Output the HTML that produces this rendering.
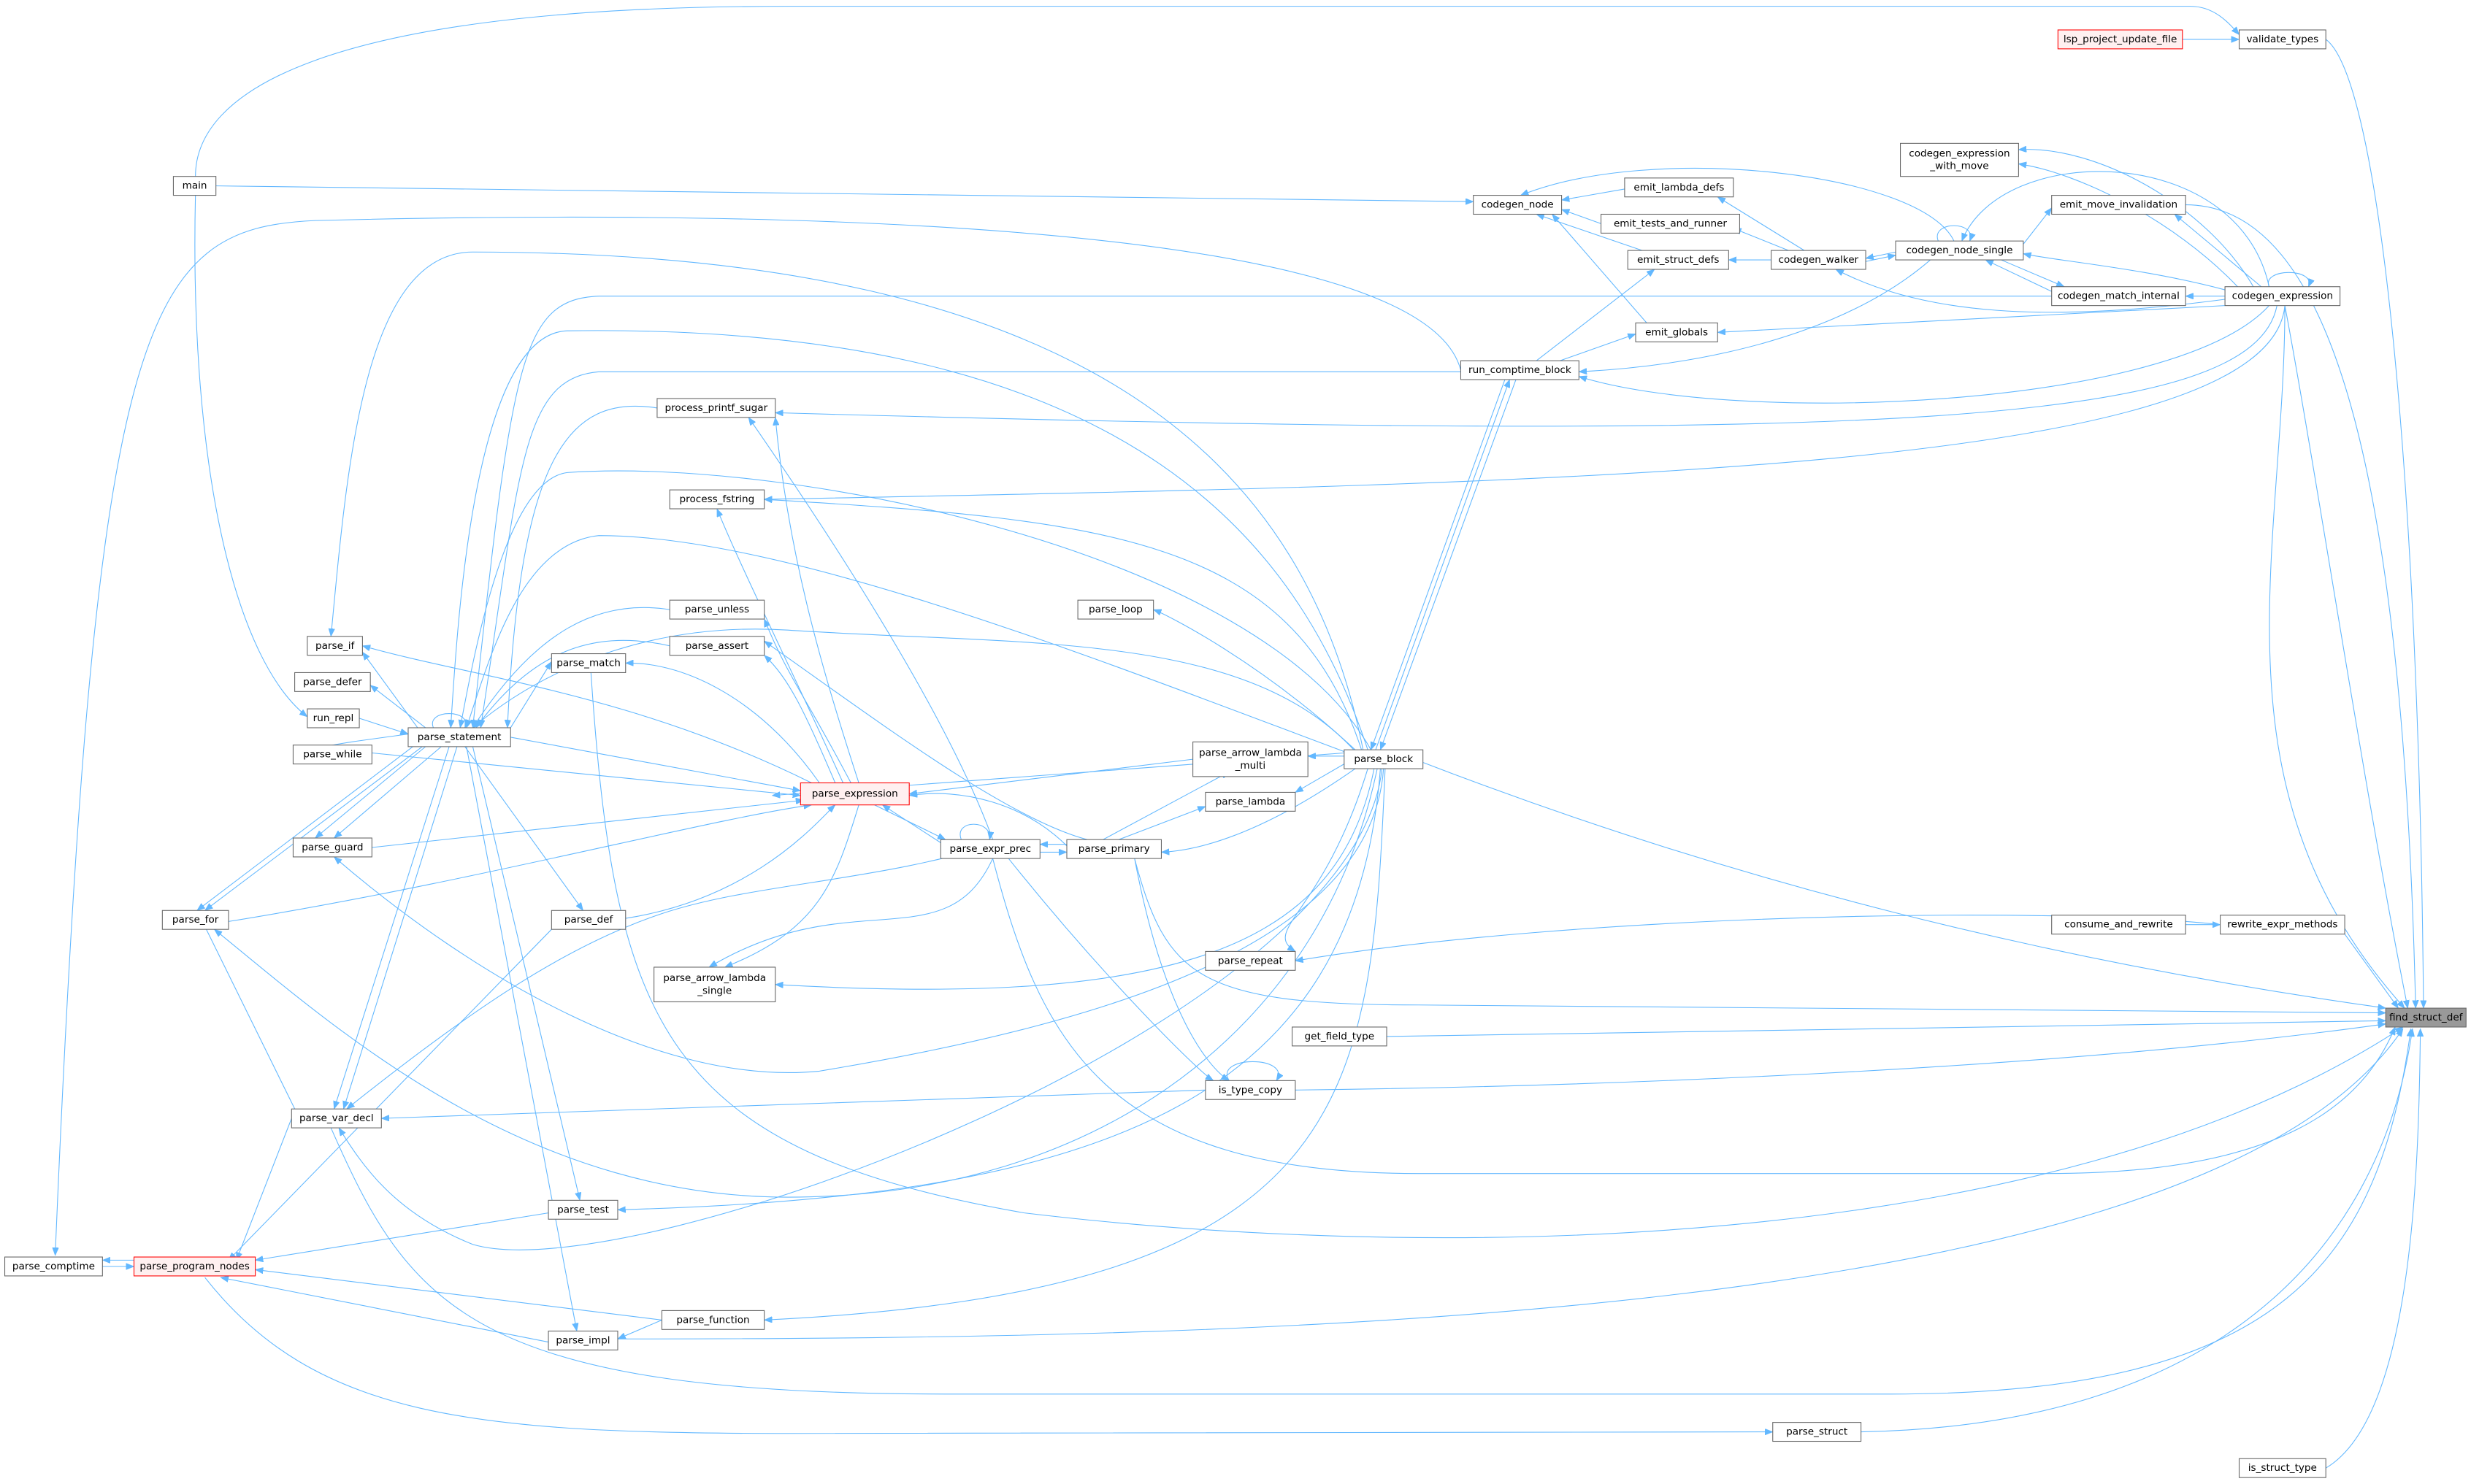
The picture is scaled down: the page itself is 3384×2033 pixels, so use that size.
<!DOCTYPE html>
<html><head><meta charset="utf-8"><style>
html,body{margin:0;padding:0;background:#fff;}
svg{display:block}
text{font-family:"DejaVu Sans","Liberation Sans",sans-serif;font-size:6.3px;fill:#000;text-anchor:middle;dominant-baseline:central}
.n{fill:#fff;stroke:#666;stroke-width:0.5}
.r{fill:#fff0f0;stroke:#f00;stroke-width:0.5}
.g{fill:#999;stroke:#666;stroke-width:0.5}
.e{fill:none;stroke:#63b8ff;stroke-width:0.5}
</style></head><body>
<svg width="3384" height="2033" viewBox="0 0 1568.1 942.1">
<defs><marker id="a" markerWidth="5" markerHeight="4" refX="5" refY="2" orient="auto" markerUnits="userSpaceOnUse"><path d="M0,0L5,2L0,4z" fill="#63b8ff" stroke="#63b8ff" stroke-width="0.3"/></marker></defs>
<g marker-end="url(#a)">
<path class="e" d="M124,112 C124,60 200,4 500,4 L1390,4 C1405,4 1414,14 1421,22"/>
<path class="e" d="M1385,25 L1421,25"/>
<path class="e" d="M137,118 L935,128"/>
<path class="e" d="M1031,120 L991,127"/>
<path class="e" d="M1016,142 L991,133"/>
<path class="e" d="M1045,160 L975,136"/>
<path class="e" d="M1045,205 L985,136"/>
<path class="e" d="M975,229 L1050,171"/>
<path class="e" d="M990,229 L1038,212"/>
<path class="e" d="M1124,165 L1097,165"/>
<path class="e" d="M1135,159 L1100,145"/>
<path class="e" d="M1145,159 L1090,125"/>
<path class="e" d="M1203,160 L1184,164"/>
<path class="e" d="M1184,166 L1203,162"/>
<path class="e" d="M1240,153 C1220,110 1050,90 965,124"/>
<path class="e" d="M1230,153 C1225,140 1255,140 1250,153"/>
<path class="e" d="M1225,165 C1150,230 1020,235 1002,236"/>
<path class="e" d="M1284,155 L1302,132"/>
<path class="e" d="M1302,185 L1260,165"/>
<path class="e" d="M1270,165 L1310,182"/>
<path class="e" d="M1412,188 L1387,188"/>
<path class="e" d="M1412,184 C1360,170 1300,165 1284,161"/>
<path class="e" d="M1412,190 C1300,205 1220,200 1165,171"/>
<path class="e" d="M1412,194 L1090,211"/>
<path class="e" d="M1440,194 C1380,260 1100,270 1002,239"/>
<path class="e" d="M1445,194 C1430,270 1200,282 492,262"/>
<path class="e" d="M1450,194 C1440,300 1000,307 485,317"/>
<path class="e" d="M1420,182 C1380,140 1320,110 1281,104"/>
<path class="e" d="M1430,182 C1400,130 1330,92 1281,95"/>
<path class="e" d="M1435,182 L1380,136"/>
<path class="e" d="M1440,182 C1435,170 1470,170 1465,182"/>
<path class="e" d="M1440,182 C1420,90 1270,90 1245,153"/>
<path class="e" d="M1302,188 L380,188 C330,190 325,230 300,462"/>
<path class="e" d="M927,235 C900,130 400,135 200,140 C90,145 60,200 35,797"/>
<path class="e" d="M927,236 L380,236 C330,240 330,300 305,462"/>
<path class="e" d="M955,241 L870,476"/>
<path class="e" d="M962,241 L876,476"/>
<path class="e" d="M873,476 L958,241"/>
<path class="e" d="M865,476 C830,300 700,160 300,160 C230,160 220,300 210,404"/>
<path class="e" d="M868,476 C820,330 700,205 360,210 C300,212 290,400 286,462"/>
<path class="e" d="M870,476 C800,350 500,290 360,300 C320,305 300,420 292,462"/>
<path class="e" d="M864,476 C820,340 700,330 485,317"/>
<path class="e" d="M860,476 C800,420 740,390 732,387"/>
<path class="e" d="M860,477 C790,400 650,410 500,400 C420,395 350,420 300,462"/>
<path class="e" d="M858,479 C700,420 500,340 380,340 C330,345 310,420 296,462"/>
<path class="e" d="M853,480 L830,480"/>
<path class="e" d="M853,485 L822,503"/>
<path class="e" d="M860,488 C800,530 760,540 737,541"/>
<path class="e" d="M868,488 C840,580 800,590 822,604"/>
<path class="e" d="M872,488 C850,600 750,640 492,625"/>
<path class="e" d="M874,488 C840,650 700,760 500,760 C330,760 210,650 136,590"/>
<path class="e" d="M876,488 C860,700 700,760 392,768"/>
<path class="e" d="M877,488 C860,650 400,820 300,790 C250,770 230,740 215,716"/>
<path class="e" d="M878,488 C870,600 700,650 520,680 C420,690 300,620 212,544"/>
<path class="e" d="M879,488 C870,700 860,820 485,838"/>
<path class="e" d="M853,478 L490,505 "/>
<path class="e" d="M1476,25 C1510,50 1535,300 1538,640"/>
<path class="e" d="M1387,130 C1480,130 1525,300 1533,640"/>
<path class="e" d="M1450,194 C1470,300 1500,500 1528,640"/>
<path class="e" d="M903,484 C1100,560 1300,610 1514,640"/>
<path class="e" d="M1488,593 L1522,640"/>
<path class="e" d="M1409,587 C1300,575 1000,580 822,610"/>
<path class="e" d="M1387,587 L1409,587"/>
<path class="e" d="M720,545 C740,620 760,638 900,638 L1514,643"/>
<path class="e" d="M880,658 L1514,648"/>
<path class="e" d="M822,692 C1000,690 1300,680 1514,650"/>
<path class="e" d="M630,545 C660,660 700,745 900,745 L1300,745 C1450,745 1500,700 1520,652"/>
<path class="e" d="M375,427 C390,650 420,730 650,770 C900,800 1300,800 1525,652"/>
<path class="e" d="M392,850 C800,850 1400,840 1525,653"/>
<path class="e" d="M210,716 C260,830 300,885 600,885 L1200,885 C1450,885 1510,800 1530,653"/>
<path class="e" d="M130,811 C200,900 300,910 500,910 L1125,909"/>
<path class="e" d="M1181,909 C1400,905 1510,800 1531,653"/>
<path class="e" d="M1476,932 C1530,900 1535,750 1536,653"/>
<path class="e" d="M1450,194 C1450,350 1400,500 1526,640"/>
<path class="e" d="M324,468 L508,502"/>
<path class="e" d="M236,478 L508,505"/>
<path class="e" d="M236,538 L510,508"/>
<path class="e" d="M145,585 C300,560 450,520 515,511"/>
<path class="e" d="M397,583 C480,570 520,520 530,511"/>
<path class="e" d="M757,482 L577,504"/>
<path class="e" d="M677,537 C650,510 610,500 577,505"/>
<path class="e" d="M597,535 L560,511"/>
<path class="e" d="M555,511 L600,533"/>
<path class="e" d="M610,533 C605,520 630,520 628,533"/>
<path class="e" d="M677,536 L660,536"/>
<path class="e" d="M660,541 L677,541"/>
<path class="e" d="M700,533 L780,490"/>
<path class="e" d="M710,533 L765,512"/>
<path class="e" d="M545,497 C520,420 500,350 492,265"/>
<path class="e" d="M630,533 C600,450 520,330 475,265"/>
<path class="e" d="M535,497 C500,420 470,360 455,323"/>
<path class="e" d="M540,497 C510,440 500,430 485,393"/>
<path class="e" d="M530,497 C510,450 500,430 485,416"/>
<path class="e" d="M520,497 C480,440 430,420 397,421"/>
<path class="e" d="M515,497 C400,440 300,430 230,410"/>
<path class="e" d="M690,533 C640,520 560,460 485,407"/>
<path class="e" d="M630,545 C600,610 540,560 450,614"/>
<path class="e" d="M545,511 C530,560 520,590 460,614"/>
<path class="e" d="M640,533 C560,560 480,560 420,580 C360,600 300,640 220,704"/>
<path class="e" d="M720,545 C740,650 770,680 780,686"/>
<path class="e" d="M640,545 C700,620 760,680 770,686"/>
<path class="e" d="M780,686 C770,670 820,670 810,686"/>
<path class="e" d="M765,692 L242,710"/>
<path class="e" d="M259,466 L230,470 C215,472 200,475 188,478"/>
<path class="e" d="M228,456 L259,466"/>
<path class="e" d="M265,462 L230,414"/>
<path class="e" d="M270,462 L235,435"/>
<path class="e" d="M275,462 C270,450 300,450 295,462"/>
<path class="e" d="M270,474 L200,532"/>
<path class="e" d="M280,474 L212,532"/>
<path class="e" d="M262,474 L125,578"/>
<path class="e" d="M268,474 L130,578"/>
<path class="e" d="M285,474 L212,704"/>
<path class="e" d="M290,474 L218,704"/>
<path class="e" d="M295,474 L370,578"/>
<path class="e" d="M300,474 L368,762"/>
<path class="e" d="M296,474 L366,845"/>
<path class="e" d="M324,462 L350,420"/>
<path class="e" d="M425,387 C380,380 340,400 300,462"/>
<path class="e" d="M425,410 C380,400 340,410 302,462"/>
<path class="e" d="M200,416 C195,405 230,405 225,416"/>
<path class="e" d="M125,578 L190,710"/>
<path class="e" d="M185,710 L150,800"/>
<path class="e" d="M350,590 L145,800"/>
<path class="e" d="M348,770 L162,800"/>
<path class="e" d="M420,838 L162,806"/>
<path class="e" d="M348,852 L140,811"/>
<path class="e" d="M65,804 L85,804"/>
<path class="e" d="M85,800 L65,800"/>
<path class="e" d="M124,124 C120,300 150,420 195,455"/>
<path class="e" d="M420,838 L392,850"/>
<path class="e" d="M417,259 C360,250 330,290 322,462"/>
</g>
<rect class="n" x="1421" y="19" width="55" height="12"/><text x="1448.5" y="25">validate_types</text>
<rect class="r" x="1306" y="19" width="79" height="12"/><text x="1345.5" y="25">lsp_project_update_file</text>
<rect class="n" x="110" y="112" width="27" height="12"/><text x="123.5" y="118">main</text>
<rect class="n" x="1206" y="91" width="75" height="21"/><text x="1243.5" y="97.5">codegen_expression</text><text x="1243.5" y="105.5">_with_move</text>
<rect class="n" x="1302" y="124" width="85" height="12"/><text x="1344.5" y="130">emit_move_invalidation</text>
<rect class="n" x="1031" y="113" width="69" height="12"/><text x="1065.5" y="119">emit_lambda_defs</text>
<rect class="n" x="935" y="124" width="56" height="12"/><text x="963" y="130">codegen_node</text>
<rect class="n" x="1016" y="136" width="88" height="12"/><text x="1060" y="142">emit_tests_and_runner</text>
<rect class="n" x="1203" y="153" width="81" height="12"/><text x="1243.5" y="159">codegen_node_single</text>
<rect class="n" x="1033" y="159" width="64" height="12"/><text x="1065" y="165">emit_struct_defs</text>
<rect class="n" x="1124" y="159" width="60" height="12"/><text x="1154" y="165">codegen_walker</text>
<rect class="n" x="1302" y="182" width="85" height="12"/><text x="1344.5" y="188">codegen_match_internal</text>
<rect class="n" x="1412" y="182" width="73" height="12"/><text x="1448.5" y="188">codegen_expression</text>
<rect class="n" x="1038" y="205" width="52" height="12"/><text x="1064" y="211">emit_globals</text>
<rect class="n" x="927" y="229" width="75" height="12"/><text x="964.5" y="235">run_comptime_block</text>
<rect class="n" x="417" y="253" width="75" height="12"/><text x="454.5" y="259">process_printf_sugar</text>
<rect class="n" x="425" y="311" width="60" height="12"/><text x="455" y="317">process_fstring</text>
<rect class="n" x="684" y="381" width="48" height="12"/><text x="708" y="387">parse_loop</text>
<rect class="n" x="425" y="381" width="60" height="12"/><text x="455" y="387">parse_unless</text>
<rect class="n" x="195" y="404" width="35" height="12"/><text x="212.5" y="410">parse_if</text>
<rect class="n" x="425" y="404" width="60" height="12"/><text x="455" y="410">parse_assert</text>
<rect class="n" x="350" y="415" width="47" height="12"/><text x="373.5" y="421">parse_match</text>
<rect class="n" x="187" y="427" width="48" height="12"/><text x="211" y="433">parse_defer</text>
<rect class="n" x="195" y="450" width="33" height="12"/><text x="211.5" y="456">run_repl</text>
<rect class="n" x="259" y="462" width="65" height="12"/><text x="291.5" y="468">parse_statement</text>
<rect class="n" x="186" y="473" width="50" height="12"/><text x="211" y="479">parse_while</text>
<rect class="n" x="757" y="471" width="73" height="22"/><text x="793.5" y="478">parse_arrow_lambda</text><text x="793.5" y="486">_multi</text>
<rect class="n" x="853" y="476" width="50" height="12"/><text x="878" y="482">parse_block</text>
<rect class="r" x="508" y="497" width="69" height="14"/><text x="542.5" y="504">parse_expression</text>
<rect class="n" x="765" y="503" width="57" height="12"/><text x="793.5" y="509">parse_lambda</text>
<rect class="n" x="186" y="532" width="50" height="12"/><text x="211" y="538">parse_guard</text>
<rect class="n" x="597" y="533" width="63" height="12"/><text x="628.5" y="539">parse_expr_prec</text>
<rect class="n" x="677" y="533" width="60" height="12"/><text x="707" y="539">parse_primary</text>
<rect class="n" x="103" y="578" width="42" height="12"/><text x="124" y="584">parse_for</text>
<rect class="n" x="350" y="578" width="47" height="12"/><text x="373.5" y="584">parse_def</text>
<rect class="n" x="1302" y="581" width="85" height="12"/><text x="1344.5" y="587">consume_and_rewrite</text>
<rect class="n" x="1409" y="581" width="79" height="12"/><text x="1448.5" y="587">rewrite_expr_methods</text>
<rect class="n" x="765" y="604" width="57" height="12"/><text x="793.5" y="610">parse_repeat</text>
<rect class="n" x="415" y="614" width="77" height="22"/><text x="453.5" y="621">parse_arrow_lambda</text><text x="453.5" y="629">_single</text>
<rect class="g" x="1514" y="640" width="51" height="12"/><text x="1539.5" y="646">find_struct_def</text>
<rect class="n" x="820" y="652" width="60" height="12"/><text x="850" y="658">get_field_type</text>
<rect class="n" x="765" y="686" width="57" height="12"/><text x="793.5" y="692">is_type_copy</text>
<rect class="n" x="185" y="704" width="57" height="12"/><text x="213.5" y="710">parse_var_decl</text>
<rect class="n" x="348" y="762" width="44" height="12"/><text x="370" y="768">parse_test</text>
<rect class="n" x="3" y="798" width="62" height="12"/><text x="34" y="804">parse_comptime</text>
<rect class="r" x="85" y="798" width="77" height="12"/><text x="123.5" y="804">parse_program_nodes</text>
<rect class="n" x="420" y="832" width="65" height="12"/><text x="452.5" y="838">parse_function</text>
<rect class="n" x="348" y="845" width="44" height="12"/><text x="370" y="851">parse_impl</text>
<rect class="n" x="1125" y="903" width="56" height="12"/><text x="1153" y="909">parse_struct</text>
<rect class="n" x="1421" y="926" width="55" height="12"/><text x="1448.5" y="932">is_struct_type</text>
</svg>
</body></html>
